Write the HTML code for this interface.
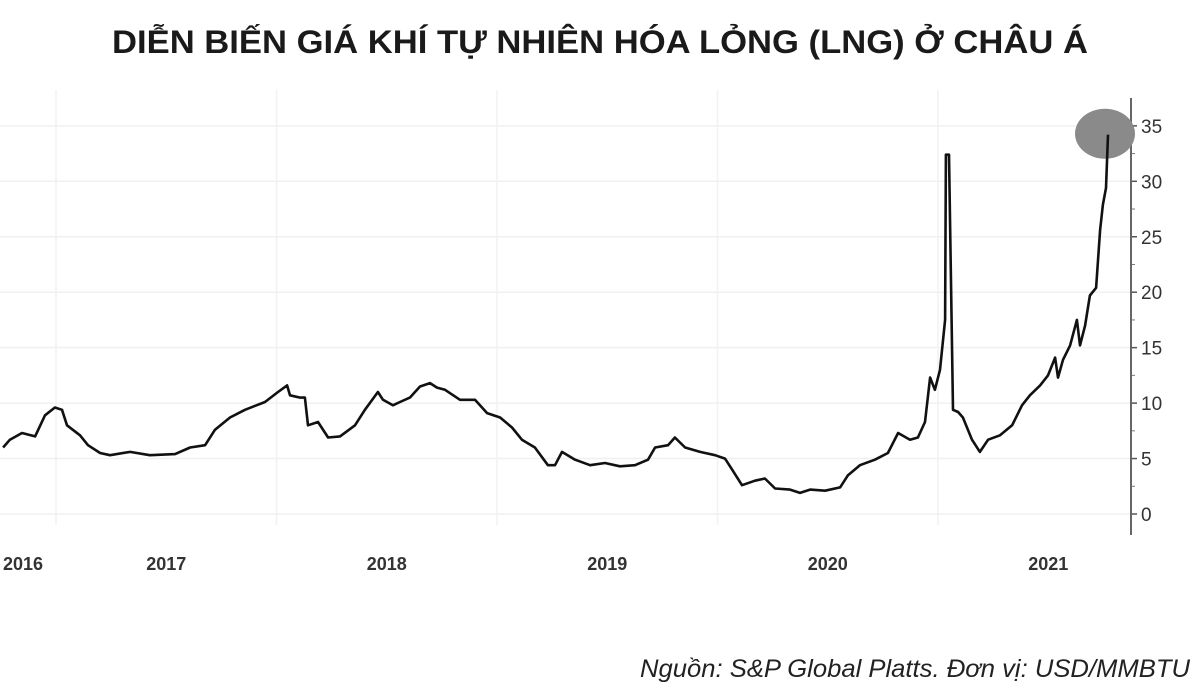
<!DOCTYPE html>
<html><head><meta charset="utf-8"><style>
body{margin:0;background:#fff;width:1200px;height:689px;overflow:hidden;font-family:"Liberation Sans",sans-serif}
</style></head><body>
<svg width="1200" height="689">
<text x="600" y="53" text-anchor="middle" font-size="32" font-weight="bold" fill="#1a1a1a" textLength="976" lengthAdjust="spacingAndGlyphs">DIỄN BIẾN GIÁ KHÍ TỰ NHIÊN HÓA LỎNG (LNG) Ở CHÂU Á</text>
<g id="grid"></g><g id="axis"></g><g id="series"></g>
<text x="1190" y="677" text-anchor="end" font-size="25" font-style="italic" fill="#222" textLength="550" lengthAdjust="spacingAndGlyphs">Nguồn: S&amp;P Global Platts. Đơn vị: USD/MMBTU</text>
</svg>
<script>
const dates=[2016.760,2016.791,2016.846,2016.905,2016.950,2016.995,2017.027,2017.050,2017.109,2017.145,2017.200,2017.245,2017.336,2017.426,2017.540,2017.608,2017.676,2017.721,2017.789,2017.857,2017.948,2018.007,2018.048,2018.061,2018.107,2018.129,2018.143,2018.188,2018.234,2018.288,2018.356,2018.401,2018.460,2018.483,2018.528,2018.560,2018.605,2018.651,2018.696,2018.728,2018.764,2018.832,2018.900,2018.955,2019.014,2019.068,2019.113,2019.172,2019.231,2019.263,2019.295,2019.354,2019.422,2019.490,2019.558,2019.626,2019.685,2019.717,2019.776,2019.807,2019.853,2019.921,2019.989,2020.034,2020.066,2020.111,2020.170,2020.215,2020.261,2020.329,2020.374,2020.420,2020.488,2020.556,2020.592,2020.646,2020.714,2020.773,2020.819,2020.873,2020.909,2020.941,2020.964,2020.986,2021.009,2021.032,2021.036,2021.050,2021.068,2021.091,2021.113,2021.154,2021.190,2021.227,2021.281,2021.336,2021.381,2021.417,2021.463,2021.499,2021.531,2021.544,2021.567,2021.599,2021.630,2021.644,2021.667,2021.689,2021.717,2021.735,2021.748,2021.762,2021.771];
const prices=[6.0,6.7,7.3,7.0,8.9,9.6,9.4,8.0,7.1,6.2,5.5,5.3,5.6,5.3,5.4,6.0,6.2,7.6,8.7,9.4,10.1,11.0,11.6,10.7,10.5,10.5,8.0,8.3,6.9,7.0,8.0,9.4,11.0,10.3,9.8,10.1,10.5,11.5,11.8,11.4,11.2,10.3,10.3,9.1,8.7,7.8,6.7,6.0,4.4,4.4,5.6,4.9,4.4,4.6,4.3,4.4,4.9,6.0,6.2,6.9,6.0,5.6,5.3,5.0,4.0,2.6,3.0,3.2,2.3,2.2,1.9,2.2,2.1,2.4,3.5,4.4,4.9,5.5,7.3,6.7,6.9,8.3,12.3,11.2,13.0,17.5,32.4,32.4,9.4,9.2,8.7,6.7,5.6,6.7,7.1,8.0,9.8,10.7,11.6,12.5,14.1,12.3,13.9,15.2,17.5,15.2,17.0,19.7,20.4,25.6,27.9,29.4,34.2];
const yTicks=[0,5,10,15,20,25,30,35];
const yearLabels=[2016,2017,2018,2019,2020,2021];
const yearLines=[2017,2018,2019,2020,2021];
const NS='http://www.w3.org/2000/svg';
const X=t=>56+(t-2017)*220.5;
const Y=v=>514-v*11.09;
function mk(tag,attrs,parent){const e=document.createElementNS(NS,tag);for(const k in attrs)e.setAttribute(k,attrs[k]);parent.appendChild(e);return e;}
const grid=document.getElementById('grid'),axis=document.getElementById('axis'),series=document.getElementById('series');
yTicks.forEach(v=>{
 const l=mk('line',{x1:0,x2:1131,y1:Y(v),y2:Y(v),stroke:'#f0f0f0','stroke-width':1.5},grid);
 
 
 const tk=mk('line',{x1:1131,x2:1137,y1:Y(v),y2:Y(v),stroke:'#555','stroke-width':1.5},axis);
 
 
 const tx=mk('text',{x:1141,y:Y(v)+7,'font-size':19,fill:'#333'},axis);
 tx.textContent=v;
 
 
 if(v<35){const m=mk('line',{x1:1131,x2:1135,y1:Y(v+2.5),y2:Y(v+2.5),stroke:'#777','stroke-width':1},axis);
 
 }
});
yearLines.forEach(yr=>{
 const l=mk('line',{x1:X(yr),x2:X(yr),y1:90,y2:525,stroke:'#f2f2f2','stroke-width':1.5},grid);
 
 
});
const ax=mk('line',{x1:1131,x2:1131,y1:98,y2:535,stroke:'#666','stroke-width':2},axis);


yearLabels.forEach(yr=>{
 let x=X(yr+0.5);let anchor='middle';
 if(x<30){x=3;anchor='start';}
 const t=mk('text',{x:x,y:570,'text-anchor':anchor,'font-size':18,'font-weight':'bold',fill:'#333'},axis);
 t.textContent=yr;
 
 
});
const li=dates.length-1;
const hl=mk('ellipse',{cx:X(dates[li])-3,cy:Y(prices[li])-1,rx:30,ry:25,fill:'#8a8a8a'},series);


const d=dates.map((t,i)=>(i?'L':'M')+X(t).toFixed(1)+' '+Y(prices[i]).toFixed(1)).join(' ');
const p=mk('path',{d:d,fill:'none',stroke:'#111','stroke-width':2.6,'stroke-linejoin':'round'},series);


</script>
</body></html>
